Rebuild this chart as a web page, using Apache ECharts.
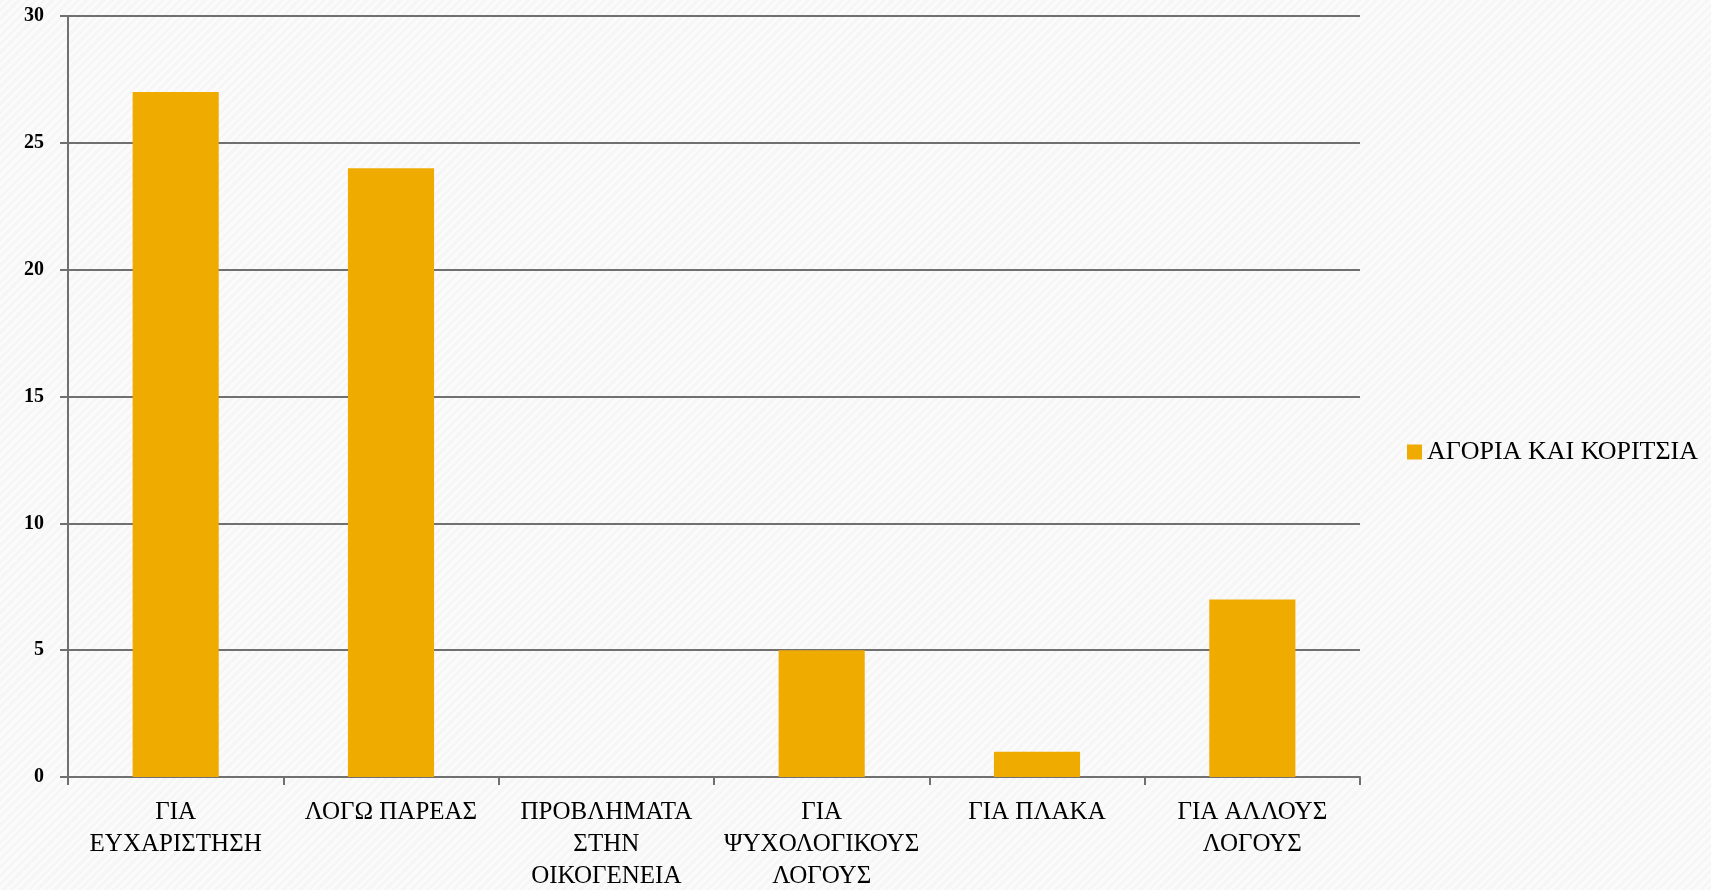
<!DOCTYPE html>
<html>
<head>
<meta charset="utf-8">
<script src="https://cdn.jsdelivr.net/npm/echarts@6/dist/echarts.min.js"></script>
<style>
  html, body { margin: 0; padding: 0; }
  body {
    background-color: #fbfbfb;
    background-image: repeating-linear-gradient(135deg, rgba(0,0,0,0.018) 0 3px, transparent 3px 6px);
  }
  #chart { width: 1711px; height: 890px; }
</style>
</head>
<body>
<div id="chart"></div>
<script>
// data
const categories = ['ΓΙΑ\nΕΥΧΑΡΙΣΤΗΣΗ', 'ΛΟΓΩ ΠΑΡΕΑΣ', 'ΠΡΟΒΛΗΜΑΤΑ\nΣΤΗΝ\nΟΙΚΟΓΕΝΕΙΑ', 'ΓΙΑ\nΨΥΧΟΛΟΓΙΚΟΥΣ\nΛΟΓΟΥΣ', 'ΓΙΑ ΠΛΑΚΑ', 'ΓΙΑ ΑΛΛΟΥΣ\nΛΟΓΟΥΣ'];
const seriesName = 'ΑΓΟΡΙΑ ΚΑΙ ΚΟΡΙΤΣΙΑ';
const values = [27, 24, 0, 5, 1, 7];
const yTicks = [0, 5, 10, 15, 20, 25, 30];

const chart = echarts.init(document.getElementById('chart'));
const serif = '"Liberation Serif", "DejaVu Serif", serif';
const lineColor = '#707070';

chart.setOption({
  backgroundColor: 'transparent',
  animation: false,
  textStyle: { fontFamily: serif },
  grid: { left: 68, right: 351, top: 16, bottom: 113, outerBoundsMode: 'none', containLabel: false },
  legend: {
    data: [seriesName],
    left: 1402,
    top: 434,
    icon: 'rect',
    itemWidth: 15,
    itemHeight: 15,
    itemGap: 6,
    textStyle: { fontFamily: serif, fontSize: 26, color: '#000' }
  },
  xAxis: {
    type: 'category',
    data: categories,
    axisLine: { lineStyle: { color: lineColor, width: 2 } },
    axisTick: { show: true, length: 8, lineStyle: { color: lineColor, width: 2 } },
    axisLabel: {
      interval: 0,
      margin: 19,
      fontFamily: serif,
      fontSize: 25,
      lineHeight: 32,
      color: '#000',
      hideOverlap: false
    }
  },
  yAxis: {
    type: 'value',
    min: yTicks[0],
    max: yTicks[yTicks.length - 1],
    interval: 5,
    axisLine: { show: true, lineStyle: { color: lineColor, width: 2 } },
    axisTick: { show: true, length: 8, lineStyle: { color: lineColor, width: 2 } },
    splitLine: { show: true, lineStyle: { color: lineColor, width: 2 } },
    axisLabel: {
      margin: 24,
      fontFamily: serif,
      fontSize: 20,
      fontWeight: 'bold',
      color: '#000'
    }
  },
  series: [{
    name: seriesName,
    type: 'bar',
    data: values,
    barWidth: '40%',
    itemStyle: { color: '#f0ab00' }
  }]
});
</script>
</body>
</html>
